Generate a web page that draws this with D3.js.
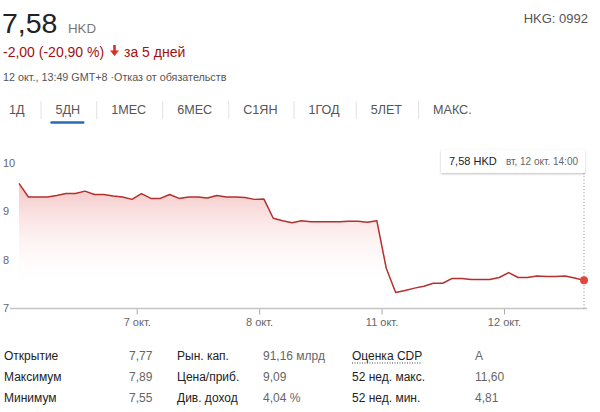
<!DOCTYPE html>
<html><head><meta charset="utf-8">
<script src="https://cdn.jsdelivr.net/npm/d3@7"></script>
<style>
html,body{margin:0;padding:0;background:#fff;}
svg{display:block;font-family:"Liberation Sans",Arial,sans-serif;}
</style></head>
<body>
<script>
// ---- data ----
const prices = [9.58,9.30,9.30,9.30,9.33,9.37,9.37,9.42,9.35,9.35,9.32,9.30,9.25,9.37,9.27,9.27,9.35,9.27,9.30,9.30,
  9.28,9.33,9.30,9.30,9.29,9.25,9.26,8.86,8.81,8.77,8.81,8.79,8.79,8.79,8.79,8.80,8.80,8.78,8.81,7.83,
  7.33,7.37,7.42,7.46,7.52,7.52,7.62,7.62,7.60,7.60,7.60,7.64,7.74,7.64,7.64,7.67,7.66,7.66,7.67,7.63,7.58];
const dayLabels = ["7 окт.","8 окт.","11 окт.","12 окт."];
const dayTickIndex = [12.5,25.5,38.5,51.5];
const yTicks = [7,8,9,10];
const tabs = ["1Д","5ДН","1МЕС","6МЕС","С1ЯН","1ГОД","5ЛЕТ","МАКС."];
const activeTab = "5ДН";
const statLabels1 = ["Открытие","Максимум","Минимум"];
const statValues1 = ["7,77","7,89","7,55"];
const statLabels2 = ["Рын. кап.","Цена/приб.","Див. доход"];
const statValues2 = ["91,16 млрд","9,09","4,04 %"];
const statLabels3 = ["Оценка CDP","52 нед. макс.","52 нед. мин."];
const statValues3 = ["A","11,60","4,81"];
const lastPrice = "7,58";
const currency = "HKD";
const ticker = "HKG: 0992";
const changeText = "-2,00 (-20,90 %)";
const periodText = "за 5 дней";
const timeText = "12 окт., 13:49 GMT+8 ·Отказ от обязательств";
const tooltipTime = "вт, 12 окт. 14:00";

const W = 600, H = 412;
const svg = d3.select("body").append("svg").attr("width", W).attr("height", H);

// ---- header ----
svg.append("text").attr("x",2).attr("y",33).attr("font-size",28.5).attr("fill","#222").text(lastPrice);
svg.append("text").attr("x",68).attr("y",33).attr("font-size",13.3).attr("fill","#777").text(currency);
svg.append("text").attr("x",588).attr("y",23).attr("text-anchor","end").attr("font-size",13).attr("fill","#555").text(ticker);
svg.append("text").attr("x",3).attr("y",56.5).attr("font-size",14).attr("fill","#a50e0e").text(changeText);
// down arrow
const ax = 114.5, ay = 51;
svg.append("path").attr("d",`M${ax-1.3},${ay-6}h2.6v5.5h3.2l-4.5,5.5l-4.5,-5.5h3.2z`).attr("fill","#d93025");
svg.append("text").attr("x",124).attr("y",56.5).attr("font-size",14).attr("fill","#a50e0e").text(periodText);
svg.append("text").attr("x",3).attr("y",81).attr("font-size",10.75).attr("fill","#555").text(timeText);

// ---- tabs ----
let tx = 9;
const tabG = svg.append("g");
tabs.forEach((t,i)=>{
  const el = tabG.append("text").attr("x",tx).attr("y",113.5).attr("font-size",12.6)
    .attr("fill","#555").text(t);
  const w = el.node().getComputedTextLength();
  if (t===activeTab) {
    tabG.append("line").attr("x1",tx-4).attr("x2",tx+w+3).attr("y1",122.5).attr("y2",122.5)
      .attr("stroke","#2a6bb5").attr("stroke-width",2.6).attr("stroke-linecap","round");
  }
  if (i < tabs.length-1) {
    const sx = tx + w + 16.5;
    tabG.append("line").attr("x1",sx).attr("x2",sx).attr("y1",101).attr("y2",119)
      .attr("stroke","#e2e2e2").attr("stroke-width",1);
    tx = sx + 14.5;
  }
});

// ---- chart ----
const x = d3.scaleLinear().domain([0, prices.length-1]).range([19, 584]);
const y = d3.scaleLinear().domain([7, 10]).range([308.5, 163]);

const defs = svg.append("defs");
const grad = defs.append("linearGradient").attr("id","fillg").attr("gradientUnits","userSpaceOnUse")
  .attr("x1",0).attr("x2",0).attr("y1",y(9.6)).attr("y2",y(7.4));
grad.append("stop").attr("offset",0).attr("stop-color","#e57373").attr("stop-opacity",0.42);
grad.append("stop").attr("offset",0.55).attr("stop-color","#f3a5a5").attr("stop-opacity",0.14);
grad.append("stop").attr("offset",1).attr("stop-color","#ffffff").attr("stop-opacity",0);
const filt = defs.append("filter").attr("id","sh").attr("x","-20%").attr("y","-40%").attr("width","140%").attr("height","180%");
filt.append("feDropShadow").attr("dx",0).attr("dy",1).attr("stdDeviation",1.2).attr("flood-color","#000").attr("flood-opacity",0.25);

const area = d3.area().x((d,i)=>x(i)).y0(y(7)).y1(d=>y(d));
svg.append("path").datum(prices).attr("d",area).attr("fill","url(#fillg)");

// y labels
svg.append("g").selectAll("text").data(yTicks).join("text")
  .attr("x",3).attr("y",d=>y(d)).attr("dy","0.35em").attr("font-size",11).attr("fill","#666").text(d=>d);

// x axis
const xAxis = d3.axisBottom(x).tickValues(dayTickIndex)
  .tickFormat((d,i)=>dayLabels[i]).tickSize(6).tickPadding(4);
const gx = svg.append("g").attr("transform",`translate(0,${y(7)})`).call(xAxis);
gx.select(".domain").remove();
gx.selectAll(".tick line").attr("stroke","#aaa");
gx.selectAll(".tick text").attr("font-size",11).attr("fill","#666").attr("font-family","Liberation Sans, Arial, sans-serif");
svg.append("line").attr("x1",10).attr("x2",587).attr("y1",y(7)).attr("y2",y(7))
  .attr("stroke","#c4c4c4").attr("stroke-width",1.5);

// line
const line = d3.line().x((d,i)=>x(i)).y(d=>y(d));
svg.append("path").datum(prices).attr("d",line).attr("fill","none")
  .attr("stroke","#b5302c").attr("stroke-width",1.5).attr("stroke-linejoin","round");

// hover marker
const li = prices.length-1;
svg.append("line").attr("x1",x(li)).attr("x2",x(li)).attr("y1",173).attr("y2",y(7))
  .attr("stroke","#999").attr("stroke-width",1).attr("stroke-dasharray","1.2,2");
svg.append("circle").attr("cx",x(li)).attr("cy",y(prices[li])).attr("r",4).attr("fill","#e0463a");

// tooltip
const tip = svg.append("g");
tip.append("rect").attr("x",x(li)-143).attr("y",150).attr("width",144).attr("height",23)
  .attr("fill","#fff").attr("filter","url(#sh)");
tip.append("text").attr("x",x(li)-135).attr("y",165).attr("font-size",11).attr("fill","#222")
  .text(lastPrice+" "+currency);
tip.append("text").attr("x",x(li)-6).attr("y",165).attr("text-anchor","end").attr("font-size",10).attr("fill","#666")
  .text(tooltipTime);

// ---- stats table ----
const rowsY = [360,381,401.5];
const cols = [
  {x:4, data:statLabels1, fill:"#222"},
  {x:129, data:statValues1, fill:"#666"},
  {x:177, data:statLabels2, fill:"#222"},
  {x:263, data:statValues2, fill:"#666"},
  {x:352, data:statLabels3, fill:"#222"},
  {x:475, data:statValues3, fill:"#666"}
];
cols.forEach(c=>{
  svg.append("g").selectAll("text").data(c.data).join("text")
    .attr("x",c.x).attr("y",(d,i)=>rowsY[i]).attr("font-size",12).attr("fill",c.fill).text(d=>d);
});
// dotted underline under first label of third group
const firstL3 = svg.selectAll("text").filter(function(){return this.textContent===statLabels3[0];}).node();
const wl = firstL3.getComputedTextLength();
svg.append("line").attr("x1",352).attr("x2",352+wl).attr("y1",363).attr("y2",363)
  .attr("stroke","#444").attr("stroke-width",1).attr("stroke-dasharray","1,1.5");
</script>
</body></html>
